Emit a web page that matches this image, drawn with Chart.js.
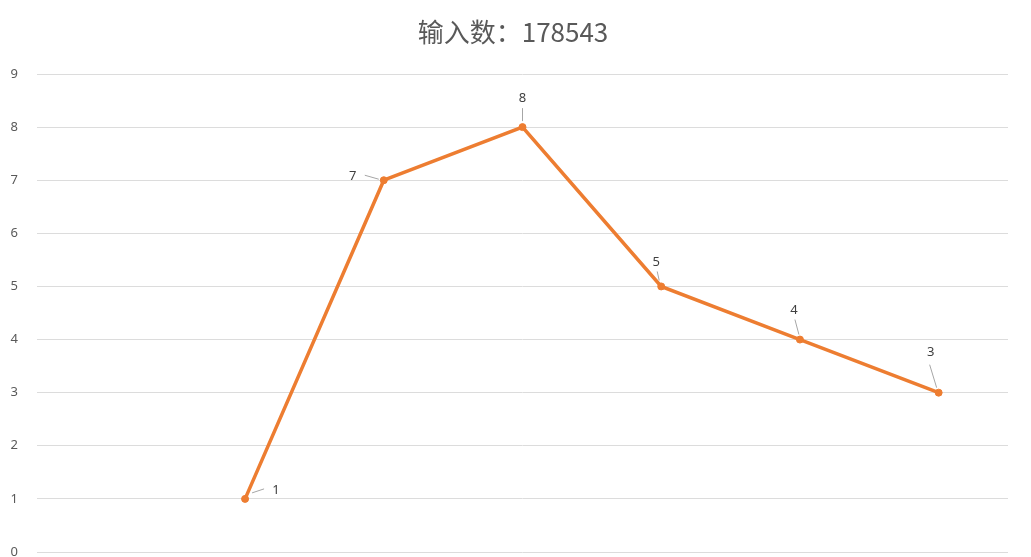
<!DOCTYPE html>
<html>
<head>
<meta charset="utf-8">
<script src="https://cdn.jsdelivr.net/npm/chart.js@4"></script>
<style>
html,body{margin:0;padding:0;background:#fff;overflow:hidden;}
canvas{display:block;}
</style>
</head>
<body>
<canvas id="c" width="1031" height="557"></canvas>
<script>
const titleText = "输入数：178543";
const categories = ["", "1", "2", "3", "4", "5", "6"];
const values = [null, 1, 7, 8, 5, 4, 3];
const yTicks = [0, 1, 2, 3, 4, 5, 6, 7, 8, 9];

// label placement (pixel offsets from each point): [labelDx, labelDy, leaderX1, leaderY1, leaderX2, leaderY2]
const labelPlacement = [
  null,
  [31, -9, 19, -10, 7, -6],
  [-31, -4, -19, -5, -5, -1],
  [0, -29, 0, -19, 0, -6],
  [-5, -24, -4, -15, -2, -6],
  [-6, -29, -5, -20, -1, -5],
  [-8, -40, -9, -28, -2, -5]
];

const labelPlugin = {
  id: 'leaderLabels',
  afterDatasetsDraw(chart) {
    const ctx = chart.ctx;
    const meta = chart.getDatasetMeta(0);
    ctx.save();
    meta.data.forEach((pt, i) => {
      const v = values[i];
      const p = labelPlacement[i];
      if (v === null || !p) return;
      const x = pt.x, y = pt.y;
      ctx.strokeStyle = '#a6a6a6';
      ctx.lineWidth = 1;
      ctx.beginPath();
      ctx.moveTo(x + p[2], y + p[3]);
      ctx.lineTo(x + p[4], y + p[5]);
      ctx.stroke();
      ctx.fillStyle = '#404040';
      ctx.font = '13px "Noto Sans", "DejaVu Sans", sans-serif';
      ctx.textAlign = 'center';
      ctx.textBaseline = 'middle';
      ctx.fillText(String(v), x + p[0], y + p[1]);
    });
    ctx.restore();
  }
};

const titlePlugin = {
  id: 'centerTitle',
  afterDraw(chart) {
    const ctx = chart.ctx;
    ctx.save();
    ctx.fillStyle = '#595959';
    ctx.font = '26px "Noto Sans CJK SC", "Noto Sans", sans-serif';
    ctx.textAlign = 'center';
    ctx.textBaseline = 'middle';
    ctx.fillText(titleText, 513, 32);
    ctx.restore();
  }
};

new Chart(document.getElementById('c'), {
  type: 'line',
  data: {
    labels: categories,
    datasets: [{
      data: values,
      borderColor: '#ED7D31',
      backgroundColor: '#ED7D31',
      borderWidth: 3.5,
      pointRadius: 3.5,
      pointBorderWidth: 1,
      pointBackgroundColor: '#ED7D31',
      pointBorderColor: '#ED7D31',
      tension: 0,
      spanGaps: false
    }]
  },
  options: {
    responsive: false,
    animation: false,
    devicePixelRatio: 1,
    layout: { padding: { left: 8, right: 23, top: 74, bottom: 3 } },
    plugins: {
      legend: { display: false },
      tooltip: { enabled: false },
      title: { display: false }
    },
    scales: {
      x: {
        type: 'category',
        offset: true,
        display: false
      },
      y: {
        min: 0,
        max: 9,
        afterBuildTicks(scale) { scale.ticks = yTicks.map(v => ({ value: v })); },
        afterFit(scale) { scale.width = 29; scale.paddingTop = 0; scale.paddingBottom = 0; },
        border: { display: false },
        grid: { color: '#dcdcdc', lineWidth: 1, drawTicks: false },
        ticks: {
          color: '#595959',
          padding: 19,
          font: { family: '"Noto Sans", "DejaVu Sans", sans-serif', size: 13 }
        }
      }
    }
  },
  plugins: [labelPlugin, titlePlugin]
});
</script>
</body>
</html>
